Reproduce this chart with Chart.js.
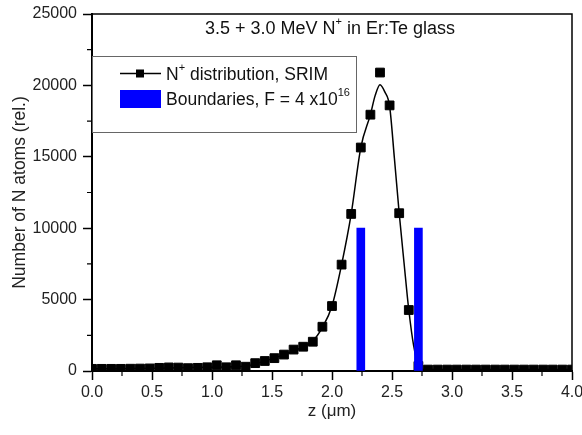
<!DOCTYPE html>
<html>
<head>
<meta charset="utf-8">
<script src="https://cdn.jsdelivr.net/npm/chart.js@4.4.0/dist/chart.umd.min.js"></script>
<style>
  html, body { margin: 0; padding: 0; background: #fff; }
  #wrap { width: 582px; height: 435px; }
</style>
</head>
<body>
<div id="wrap"><canvas id="canvas" width="582" height="435"></canvas></div>
<script>
// SRIM depth profile of implanted N (bins of 0.08 um)
var depthZ = [0.00, 0.08, 0.16, 0.24, 0.32, 0.40, 0.48, 0.56, 0.64, 0.72,
              0.80, 0.88, 0.96, 1.04, 1.12, 1.20, 1.28, 1.36, 1.44, 1.52,
              1.60, 1.68, 1.76, 1.84, 1.92, 2.00, 2.08, 2.16, 2.24, 2.32,
              2.40, 2.48, 2.56, 2.64, 2.72, 2.80, 2.88, 2.96, 3.04, 3.12,
              3.20, 3.28, 3.36, 3.44, 3.52, 3.60, 3.68, 3.76, 3.84, 3.92, 4.00];
var nAtoms = [150, 150, 150, 150, 160, 170, 180, 220, 250, 240,
              200, 220, 260, 400, 260, 400, 300, 550, 700, 900,
              1150, 1500, 1700, 2050, 3100, 4550, 7450, 11000, 15650, 17950,
              20900, 18600, 11050, 4270, 350, 100, 100, 100, 100, 100,
              100, 100, 100, 100, 100, 100, 100, 100, 100, 100, 100];

// smooth fitted curve through the profile
var fitZ = [0.00, 0.56, 0.96, 1.28, 1.44, 1.60, 1.76, 1.84, 1.92, 2.00, 2.08, 2.16, 2.24,
            2.32, 2.36, 2.40, 2.44, 2.48, 2.52, 2.56, 2.60, 2.64, 2.68, 2.73, 2.80, 4.00];
var fitN = [150, 200, 260, 350, 700, 1150, 1700, 2100, 3050, 4550, 7450, 11000, 15650,
            17950, 19300, 20050, 19550, 18550, 14900, 11050, 7600, 4270, 1800, 150, 100, 100];

// implantation boundaries
var boundZ = [2.24, 2.72];
var boundN = [10000, 10000];

var xTicks = [0, 0.5, 1.0, 1.5, 2.0, 2.5, 3.0, 3.5, 4.0];
var yTicks = [0, 5000, 10000, 15000, 20000, 25000];

var FONT = "'Liberation Sans', Arial, sans-serif";

function toXY(xs, ys) {
    var out = [];
    for (var i = 0; i < xs.length; i++) {
        out.push({x: xs[i], y: ys[i]});
    }
    return out;
}

// draws text pieces where some are superscripts, returns end x
function richText(ctx, parts, x, y, size) {
    for (var i = 0; i < parts.length; i++) {
        var p = parts[i];
        if (p.sup) {
            ctx.font = Math.round(size * 0.6) + "px " + FONT;
            ctx.fillText(p.t, x, y - size * 0.38);
        } else {
            ctx.font = size + "px " + FONT;
            ctx.fillText(p.t, x, y);
        }
        x += ctx.measureText(p.t).width;
    }
    return x;
}

var framePlugin = {
    id: 'frame',
    afterDatasetsDraw: function(chart) {
        var ctx = chart.ctx;
        var a = chart.chartArea;
        var xs = chart.scales.x, ys = chart.scales.y;
        ctx.save();

        // top and right border
        ctx.strokeStyle = '#000';
        ctx.lineWidth = 1.5;
        ctx.beginPath();
        ctx.moveTo(a.left, a.top);
        ctx.lineTo(a.right, a.top);
        ctx.lineTo(a.right, a.bottom);
        ctx.stroke();

        // minor ticks
        ctx.lineWidth = 1.2;
        ctx.beginPath();
        for (var i = 0; i < xTicks.length - 1; i++) {
            var px = xs.getPixelForValue((xTicks[i] + xTicks[i + 1]) / 2);
            ctx.moveTo(px, a.bottom);
            ctx.lineTo(px, a.bottom + 5);
        }
        for (var j = 0; j < yTicks.length - 1; j++) {
            var py = ys.getPixelForValue((yTicks[j] + yTicks[j + 1]) / 2);
            ctx.moveTo(a.left, py);
            ctx.lineTo(a.left - 5, py);
        }
        ctx.stroke();

        // title inside the plot
        ctx.fillStyle = '#111';
        ctx.textBaseline = 'middle';
        ctx.textAlign = 'left';
        richText(ctx, [{t: '3.5 + 3.0 MeV N'}, {t: '+', sup: true}, {t: ' in Er:Te glass'}], 205, 29, 18);

        // legend box
        var bx = a.left, by = 56, bw = 264, bh = 76;
        ctx.fillStyle = '#fff';
        ctx.fillRect(bx, by, bw, bh);
        ctx.strokeStyle = '#666';
        ctx.lineWidth = 1;
        ctx.strokeRect(bx + 0.5, by + 0.5, bw, bh);

        // row 1: line with square marker
        ctx.strokeStyle = '#000';
        ctx.lineWidth = 1.5;
        ctx.beginPath();
        ctx.moveTo(120, 73.5);
        ctx.lineTo(161, 73.5);
        ctx.stroke();
        ctx.fillStyle = '#000';
        ctx.fillRect(136, 69.5, 8, 8);
        ctx.fillStyle = '#111';
        richText(ctx, [{t: 'N'}, {t: '+', sup: true}, {t: ' distribution, SRIM'}], 166, 75, 17.5);

        // row 2: blue block
        ctx.fillStyle = '#0000ff';
        ctx.fillRect(120, 90, 41, 18);
        ctx.fillStyle = '#111';
        richText(ctx, [{t: 'Boundaries, F = 4 x10'}, {t: '16', sup: true}], 166, 100, 17.5);

        ctx.restore();
    }
};

window.onload = function() {
    var ctx = document.getElementById("canvas").getContext("2d");
    window.myChart = new Chart(ctx, {
        type: 'scatter',
        data: {
            datasets: [
                {
                    type: 'bar',
                    label: 'Boundaries',
                    data: toXY(boundZ, boundN),
                    backgroundColor: '#0000ff',
                    borderWidth: 0,
                    barThickness: 8,
                    order: 0
                },
                {
                    type: 'line',
                    label: 'N+ distribution, SRIM',
                    data: toXY(depthZ, nAtoms),
                    showLine: false,
                    pointStyle: 'rect',
                    pointRadius: 6.2,
                    pointBorderWidth: 1,
                    pointBackgroundColor: '#000',
                    pointBorderColor: '#000',
                    order: 1
                },
                {
                    type: 'line',
                    label: 'fit',
                    data: toXY(fitZ, fitN),
                    borderColor: '#000',
                    borderWidth: 1.5,
                    pointRadius: 0,
                    cubicInterpolationMode: 'monotone',
                    fill: false,
                    order: 2
                }
            ]
        },
        options: {
            responsive: false,
            animation: false,
            layout: { padding: { top: 14, right: 10, left: 0, bottom: 0 } },
            plugins: {
                legend: { display: false },
                tooltip: { enabled: false }
            },
            scales: {
                x: {
                    type: 'linear',
                    min: 0,
                    max: 4,
                    offset: false,
                    afterBuildTicks: function(scale) {
                        scale.ticks = xTicks.map(function(v) { return {value: v}; });
                    },
                    afterFit: function(scale) {
                        scale.height = 64;
                        scale.paddingLeft = 0;
                        scale.paddingRight = 0;
                    },
                    grid: { display: true, offset: false, drawOnChartArea: false, drawTicks: true,
                            tickLength: 9, tickColor: '#000', tickWidth: 1.5 },
                    border: { display: true, color: '#000', width: 2 },
                    ticks: {
                        font: { family: FONT, size: 16 },
                        color: '#222',
                        padding: 3,
                        maxRotation: 0,
                        callback: function(v) { return Number(v).toFixed(1); }
                    },
                    title: {
                        display: true,
                        text: 'z (\u03bcm)',
                        font: { family: FONT, size: 17 },
                        color: '#222',
                        padding: { top: 0, bottom: 13 }
                    }
                },
                y: {
                    min: 0,
                    max: 25000,
                    afterBuildTicks: function(scale) {
                        scale.ticks = yTicks.map(function(v) { return {value: v}; });
                    },
                    afterFit: function(scale) {
                        scale.width = 92;
                        scale.paddingTop = 0;
                        scale.paddingBottom = 0;
                    },
                    grid: { display: true, drawOnChartArea: false, drawTicks: true,
                            tickLength: 9, tickColor: '#000', tickWidth: 1.5 },
                    border: { display: true, color: '#000', width: 2 },
                    ticks: {
                        font: { family: FONT, size: 16 },
                        color: '#222',
                        padding: 6,
                        callback: function(v) { return String(v); }
                    },
                    title: {
                        display: true,
                        text: 'Number of N atoms (rel.)',
                        font: { family: FONT, size: 17.5 },
                        color: '#222',
                        padding: { top: 10, bottom: 0 }
                    }
                }
            }
        },
        plugins: [framePlugin]
    });
};
</script>
</body>
</html>
